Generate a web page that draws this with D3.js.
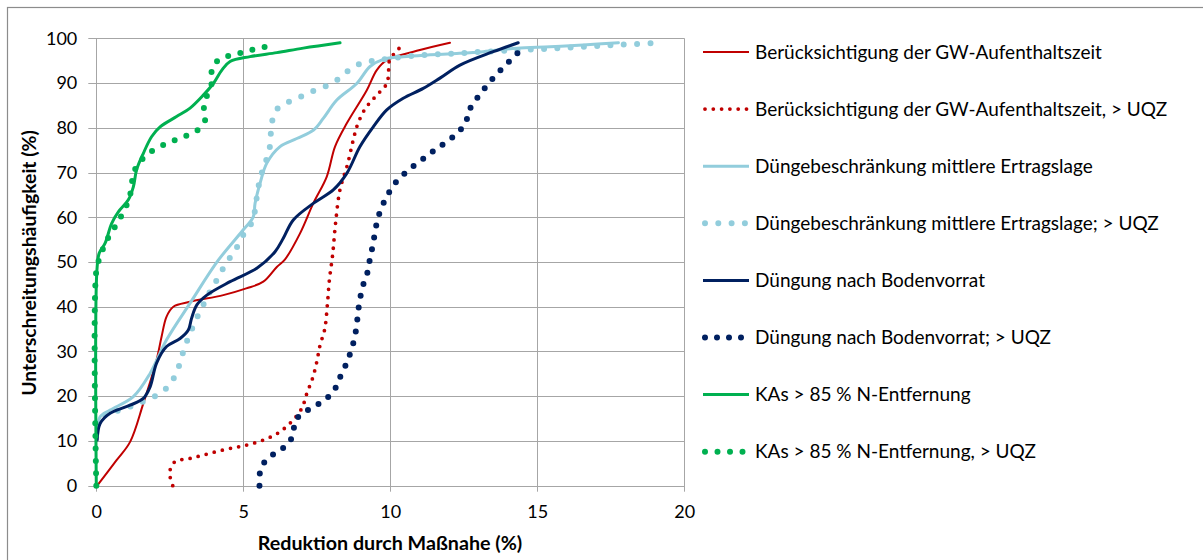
<!DOCTYPE html>
<html>
<head>
<meta charset="utf-8">
<script src="https://cdn.jsdelivr.net/npm/d3@7"></script>
<style>
  body { margin: 0; background: #fff; }
  svg { font-family: Lato, "Open Sans", sans-serif; }
</style>
</head>
<body>
<svg id="chart" width="1203" height="560"></svg>
<script>
// x = Reduktion (%), y = Unterschreitungshäufigkeit (%)
const xTicks = [0, 5, 10, 15, 20];
const yTicks = [0, 10, 20, 30, 40, 50, 60, 70, 80, 90, 100];

const gwSolid = [[0.03,0],[0.69,5.7],[1.15,9.8],[1.6,18.4],[2.05,28.1],[2.22,33.3],[2.39,37.8],[2.62,40],[3.19,41.1],[4.32,42.6],[5.1,44.1],[5.68,45.6],[6.14,48.9],[6.42,50.6],[6.93,56.4],[7.38,63.1],[7.84,69.1],[8.12,75.8],[8.52,81],[9.2,88.4],[9.54,92.9],[9.88,95.1],[10.9,97.2],[12.03,99]];
const gwUqz = [[2.6,0],[2.51,2],[2.51,3.5],[2.68,5.4],[3.19,6.1],[4.32,8],[5.12,9.1],[5.68,10.2],[6.19,11.8],[6.64,14.3],[6.99,17.3],[7.16,20.6],[7.36,24.1],[7.5,27.7],[7.61,31.4],[7.77,35],[7.86,40.5],[7.93,46.1],[8.04,51.7],[8.14,58.8],[8.29,66.2],[8.54,71.7],[8.74,77.3],[8.88,80.6],[9.14,84.2],[9.51,87.1],[9.88,89.9],[9.95,93.7],[9.97,95],[10.16,96.8],[10.39,98.3]];
const dbSolid = [[0.05,13],[0.13,15.4],[0.47,16.9],[1.26,19.9],[1.83,25.1],[2.39,32.6],[3.19,40.8],[4.15,50.4],[5,57.2],[5.34,60.1],[5.4,63.1],[5.57,67.6],[5.8,72.1],[6.25,75.8],[6.82,77.6],[7.39,79.5],[7.72,82.1],[8.18,86.2],[8.86,89.9],[9.31,93.7],[9.76,95.3],[10.44,95.9],[11.35,96.3],[12.26,96.6],[13.16,97],[14.3,97.8],[15.43,98.1],[16.56,98.5],[17.76,99]];
const dbUqz = [[0.3,15.8],[1.2,17.8],[1.6,18.8],[2.03,20.1],[2.39,21.8],[2.65,24.2],[2.82,26.9],[2.96,30],[3.1,32.6],[3.27,35.3],[3.47,38.2],[3.67,40.8],[3.87,43.4],[4.1,46],[4.32,48.6],[4.57,51.2],[4.81,53.6],[5.04,56.5],[5.29,58.8],[5.4,61.6],[5.46,64.6],[5.54,67.6],[5.65,70.4],[5.8,73.2],[5.91,76],[5.94,79],[6,81.9],[6.19,84.5],[6.61,86],[7.04,87.2],[7.44,88.4],[7.87,89.5],[8.26,91],[8.6,92.9],[9,94.4],[9.45,95],[9.88,95.4],[10.78,96.1],[12.14,96.6],[13.5,97.1],[14.86,97.5],[16.22,98],[17.59,98.5],[18.95,98.9]];
const bvSolid = [[0.03,10.2],[0.13,13.9],[0.47,16.2],[1.15,18],[1.6,19.5],[1.83,22.1],[2.05,27.4],[2.39,31.1],[2.85,32.9],[3.13,34.8],[3.24,37.4],[3.42,40.4],[3.76,42.6],[4.55,45.6],[5.46,48.6],[6.08,52.3],[6.36,55.3],[6.7,59.4],[7.38,63.1],[8.06,66.1],[8.52,69.8],[8.97,75.8],[9.42,80.2],[9.88,84],[10.44,86.6],[11.12,88.8],[11.69,91.1],[12.37,94],[13.5,97],[14.35,99]];
const bvUqz = [[5.55,0],[5.57,3],[5.76,5.6],[6.11,7.4],[6.5,9.2],[6.7,11.6],[6.76,14.5],[7.1,16.5],[7.5,18],[7.87,19.7],[8.15,22],[8.32,24.7],[8.52,27.5],[8.67,30.3],[8.79,33.2],[8.86,36.1],[8.91,39.1],[8.98,42.1],[9.08,44.9],[9.22,47.6],[9.31,50.8],[9.4,53.6],[9.48,56.6],[9.57,59.6],[9.72,62.4],[9.91,65],[10.16,67.6],[10.47,69.7],[10.82,71.6],[11.19,73.4],[11.55,75.2],[11.92,76.9],[12.28,78.8],[12.56,81.1],[12.69,84],[12.94,86.5],[13.22,88.9],[13.5,91.1],[13.81,93.3],[14.13,95.4],[14.45,97.5]];
const kaSolid = [[0,0],[0.02,48],[0.1,52],[0.3,54.2],[0.52,58.6],[0.75,61.2],[1.09,63.9],[1.26,66.8],[1.37,70.6],[1.6,74.3],[1.88,78],[2.17,80.2],[2.73,82.5],[3.19,84.4],[3.64,87.3],[3.98,89.9],[4.27,92.9],[4.55,94.8],[5.23,95.9],[6.14,96.8],[7.04,97.8],[8.29,99]];
const kaUqz = [[0,0],[0,48],[0.13,51.2],[0.26,53.4],[0.47,56.2],[0.71,58.6],[0.92,61.2],[1.11,64],[1.2,66.8],[1.26,69.8],[1.49,72.4],[1.8,74.4],[2.2,75.9],[2.62,77.1],[3.05,78.2],[3.45,79.5],[3.71,81.9],[3.66,84.7],[3.79,87.7],[3.95,90.5],[3.93,93.3],[4.21,95.4],[4.64,96.3],[5.08,97],[5.51,97.8],[5.97,98.3]];

const seriesNames = [
  'Berücksichtigung der GW-Aufenthaltszeit',
  'Berücksichtigung der GW-Aufenthaltszeit, > UQZ',
  'Düngebeschränkung mittlere Ertragslage',
  'Düngebeschränkung mittlere Ertragslage; > UQZ',
  'Düngung nach Bodenvorrat',
  'Düngung nach Bodenvorrat; > UQZ',
  'KAs > 85 % N-Entfernung',
  'KAs > 85 % N-Entfernung, > UQZ'
];

// styles per series: colour, width, dotted spacing (0 = solid)
const series = [
  { name: seriesNames[0], data: gwSolid, color: '#c00000', width: 2, gap: 0 },
  { name: seriesNames[1], data: gwUqz, color: '#c00000', width: 3.8, gap: 8.3 },
  { name: seriesNames[2], data: dbSolid, color: '#92cddc', width: 3, gap: 0 },
  { name: seriesNames[3], data: dbUqz, color: '#92cddc', width: 6, gap: 13.3 },
  { name: seriesNames[4], data: bvSolid, color: '#002060', width: 3, gap: 0 },
  { name: seriesNames[5], data: bvUqz, color: '#002060', width: 6, gap: 12 },
  { name: seriesNames[6], data: kaSolid, color: '#00b050', width: 3, gap: 0 },
  { name: seriesNames[7], data: kaUqz, color: '#00b050', width: 6, gap: 12.5 }
];

const svg = d3.select('#chart');

// outer frame
svg.append('rect')
  .attr('x', 7.5).attr('y', 7.5)
  .attr('width', 1220).attr('height', 580)
  .attr('fill', 'none').attr('stroke', '#8c8c8c').attr('stroke-width', 1.2);

const x = d3.scaleLinear().domain([0, 20]).range([96.3, 684.3]);
const y = d3.scaleLinear().domain([0, 100]).range([485.7, 38.3]);

// gridlines
svg.append('g')
  .selectAll('line.h')
  .data(yTicks)
  .enter().append('line')
  .attr('x1', x(0) - 8).attr('x2', x(20))
  .attr('y1', d => Math.round(y(d)) + 0.5).attr('y2', d => Math.round(y(d)) + 0.5)
  .attr('stroke', '#a6a6a6').attr('stroke-width', 1);

svg.append('g')
  .selectAll('line.v')
  .data(xTicks)
  .enter().append('line')
  .attr('x1', d => Math.round(x(d)) + 0.5).attr('x2', d => Math.round(x(d)) + 0.5)
  .attr('y1', y(100)).attr('y2', y(0) + 6)
  .attr('stroke', '#a6a6a6').attr('stroke-width', 1);

// axes labels via d3 axes
const yAxis = svg.append('g')
  .attr('transform', 'translate(' + x(0) + ',0)')
  .call(d3.axisLeft(y).tickValues(yTicks).tickSize(8).tickPadding(11));
yAxis.select('.domain').remove();
yAxis.selectAll('.tick line').remove();
yAxis.selectAll('text').attr('font-size', 18).attr('fill', '#000').attr('font-family', 'Lato');

const xAxis = svg.append('g')
  .attr('transform', 'translate(0,' + y(0) + ')')
  .call(d3.axisBottom(x).tickValues(xTicks).tickSize(6).tickPadding(14));
xAxis.select('.domain').remove();
xAxis.selectAll('.tick line').remove();
xAxis.selectAll('text').attr('font-size', 18).attr('fill', '#000').attr('font-family', 'Lato');

// axis titles
svg.append('text')
  .attr('x', 390).attr('y', 550)
  .attr('text-anchor', 'middle')
  .attr('font-weight', 'bold').attr('font-size', 19.7)
  .text('Reduktion durch Maßnahe (%)');

svg.append('text')
  .attr('transform', 'translate(36,263) rotate(-90)')
  .attr('text-anchor', 'middle')
  .attr('font-weight', 'bold').attr('font-size', 19.4)
  .text('Unterschreitungshäufigkeit (%)');

// curves
const line = d3.line()
  .x(d => x(d[0]))
  .y(d => y(d[1]))
  .curve(d3.curveCatmullRom.alpha(0.5));

svg.append('g')
  .selectAll('path')
  .data(series)
  .enter().append('path')
  .attr('d', d => line(d.data))
  .attr('fill', 'none')
  .attr('stroke', d => d.color)
  .attr('stroke-width', d => d.width)
  .attr('stroke-linecap', 'round')
  .attr('stroke-linejoin', 'round')
  .attr('stroke-dasharray', d => d.gap ? '0 ' + d.gap : null);

// legend
const legend = svg.append('g')
  .selectAll('g')
  .data(series)
  .enter().append('g')
  .attr('transform', (d, i) => 'translate(703,' + (52 + i * 57.1) + ')');

legend.append('line')
  .attr('x1', d => d.gap ? 2 : 0).attr('x2', 46)
  .attr('y1', 0).attr('y2', 0)
  .attr('stroke', d => d.color)
  .attr('stroke-width', d => d.width)
  .attr('stroke-linecap', d => d.gap ? 'round' : 'butt')
  .attr('stroke-dasharray', d => d.gap ? '0 ' + d.gap : null);

legend.append('text')
  .attr('x', 52).attr('y', 0).attr('dy', '0.35em')
  .attr('font-size', 19)
  .text(d => d.name);
</script>
</body>
</html>
